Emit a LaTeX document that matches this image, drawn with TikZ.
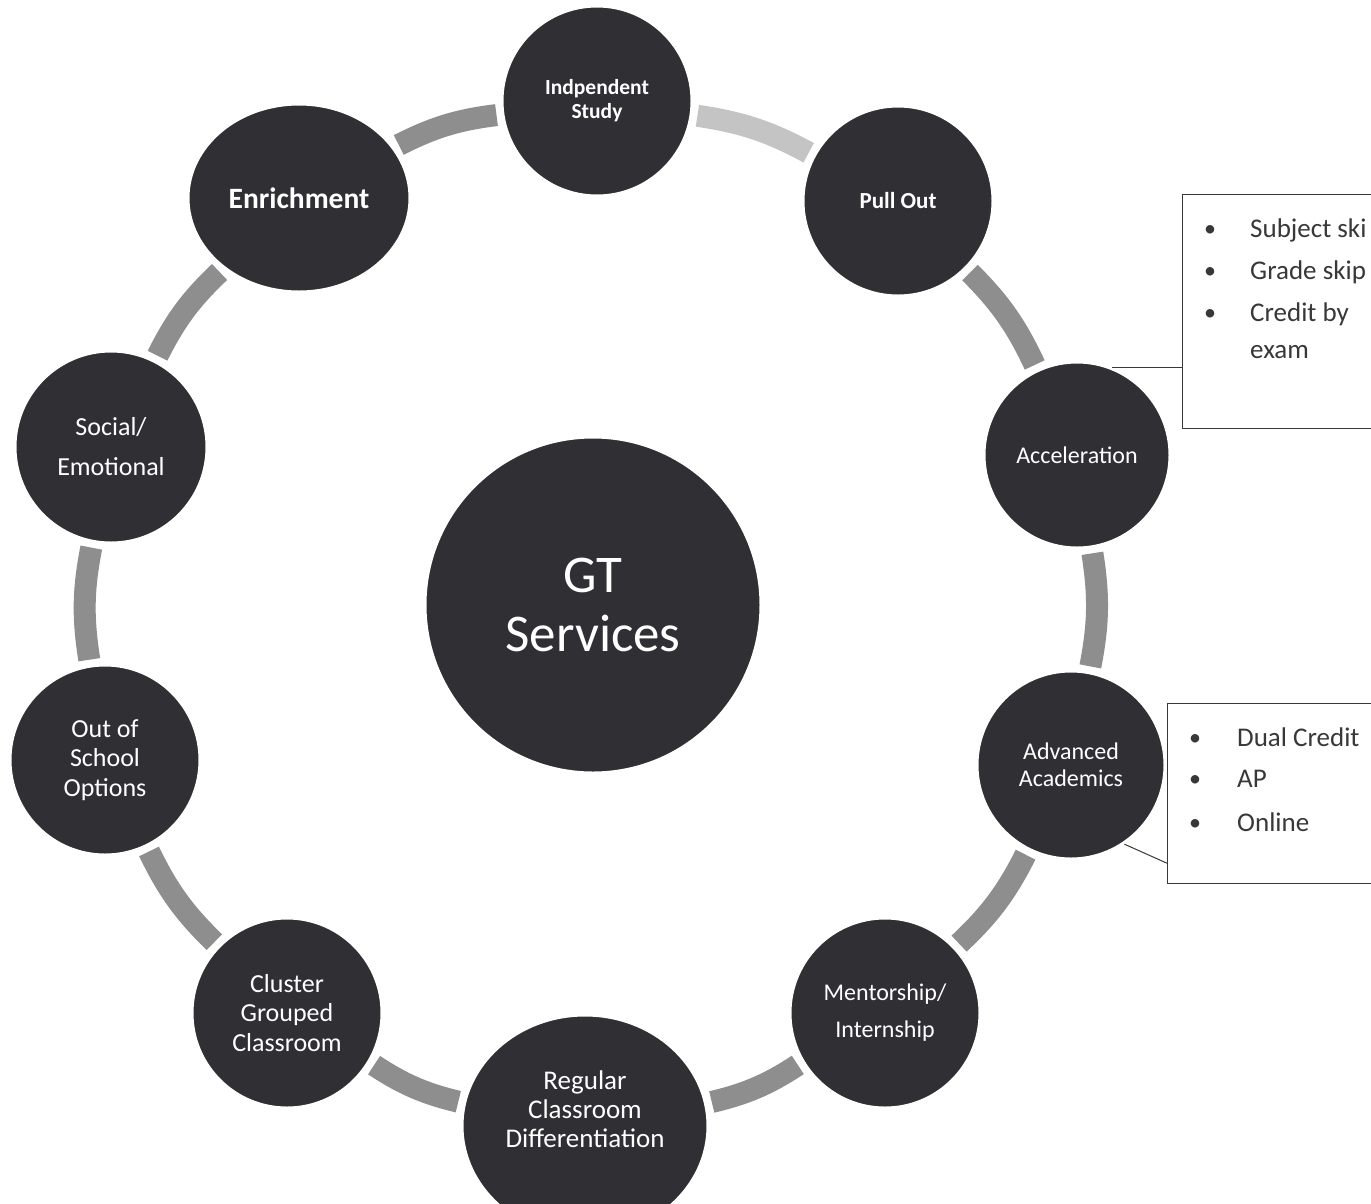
\documentclass[tikz,border=0pt]{standalone}
\usepackage{fontspec}
\setmainfont{Carlito}
\usetikzlibrary{shapes.geometric}
\definecolor{dotc}{HTML}{303034}
\definecolor{barc}{HTML}{8E8E8E}
\definecolor{barl}{HTML}{C4C4C4}
\definecolor{inkc}{HTML}{383838}
\begin{document}
\begin{tikzpicture}[x=1pt,y=-1pt,
  blob/.style={circle,fill=dotc,draw=white,line width=3pt,inner sep=0pt,text=white,align=center},
  oval/.style={ellipse,fill=dotc,draw=white,line width=3pt,inner sep=0pt,text=white,align=center},
  bar/.style={draw=barc,line width=22pt,shorten >=5pt,shorten <=5pt},
  barlight/.style={bar,draw=barl},
  callbox/.style={draw=inkc,line width=1.2pt,inner sep=0pt,fill=white},
  callout/.style={draw=inkc,line width=1pt},
  boxtxt/.style={anchor=base west,text=inkc,inner sep=0pt,font=\fontsize{27}{32}\selectfont},
  bul/.style={anchor=base,text=inkc,inner sep=0pt,font=\fontsize{24}{30}\selectfont}
]
\useasboundingbox (0,0) rectangle (1371,1203);
\clip (0,0) rectangle (1371,1203);
\fill[white] (0,0) rectangle (1371,1203);

% nodes
\node[blob,minimum size=336,font=\fontsize{53}{59}\selectfont] (gt) at (593,605) {GT\\Services};
\node[blob,minimum size=190,font=\bfseries\fontsize{21.5}{24}\selectfont] (indp) at (597,101) {Indpendent\\Study};
\node[blob,minimum size=190,font=\bfseries\fontsize{23}{26}\selectfont] (pull) at (898,201) {Pull Out};
\node[blob,minimum size=186,font=\fontsize{24}{28}\selectfont] (acc) at (1077,455) {Acceleration};
\node[blob,minimum size=188,font=\fontsize{24}{27}\selectfont] (adv) at (1071,765) {Advanced\\Academics};
\node[blob,minimum size=190,font=\fontsize{24}{37}\selectfont] (men) at (885,1013) {Mentorship/\\Internship};
\node[oval,minimum width=246,minimum height=222] (reg) at (585,1126) {};
\node[text=white,align=center,inner sep=0pt,font=\fontsize{27}{29}\selectfont] (regt) at (585,1109) {Regular\\Classroom\\Differentiation};
\node[blob,minimum size=190,font=\fontsize{26}{29.5}\selectfont] (clu) at (287,1013) {Cluster\\Grouped\\Classroom};
\node[blob,minimum size=190,font=\fontsize{26}{29.5}\selectfont] (oos) at (105,760) {Out of\\School\\Options};
\node[blob,minimum size=192,font=\fontsize{26}{40}\selectfont] (soc) at (111,447) {Social/\\Emotional};
\node[oval,minimum width=222,minimum height=188,font=\bfseries\fontsize{29.5}{32}\selectfont] (enr) at (299,198) {Enrichment};

% ring connectors
\draw[barlight] (indp) to[bend left=10] (pull);
\draw[bar] (pull) to[bend left=10] (acc);
\draw[bar] (acc) to[bend left=10] (adv);
\draw[bar] (adv) to[bend left=10] (men);
\draw[bar] (men) to[bend left=10] (reg);
\draw[bar] (reg) to[bend left=10] (clu);
\draw[bar] (clu) to[bend left=10] (oos);
\draw[bar] (oos) to[bend left=10] (soc);
\draw[bar] (soc) to[bend left=10] (enr);
\draw[bar] (enr) to[bend left=10] (indp);

% callout boxes
\node[callbox,minimum width=230,minimum height=234,anchor=north west] (accbox) at (1182,194) {};
\node[callbox,minimum width=230,minimum height=180,anchor=north west] (advbox) at (1167,703) {};
\draw[callout] (acc.68) -- (acc.68 -| accbox.west);
\coordinate (advjoin) at ([yshift=21pt]advbox.south west);
\draw[callout] (adv.-56) -- (advjoin);

% callout texts
\node[bul] (b1) at (1210,236) {•};
\node[boxtxt] (t1) at (1250,237) {Subject ski};
\node[bul] (b2) at (1210,278) {•};
\node[boxtxt] (t2) at (1250,279) {Grade skip};
\node[bul] (b3) at (1210,320) {•};
\node[boxtxt] (t3) at (1250,321) {Credit by};
\node[boxtxt] (t4) at (1250,358) {exam};

\node[bul] (c1) at (1195,745) {•};
\node[boxtxt] (u1) at (1237,746) {Dual Credit};
\node[bul] (c2) at (1195,786) {•};
\node[boxtxt] (u2) at (1237,787) {AP};
\node[bul] (c3) at (1195,830) {•};
\node[boxtxt] (u3) at (1237,831) {Online};
\end{tikzpicture}
\end{document}
